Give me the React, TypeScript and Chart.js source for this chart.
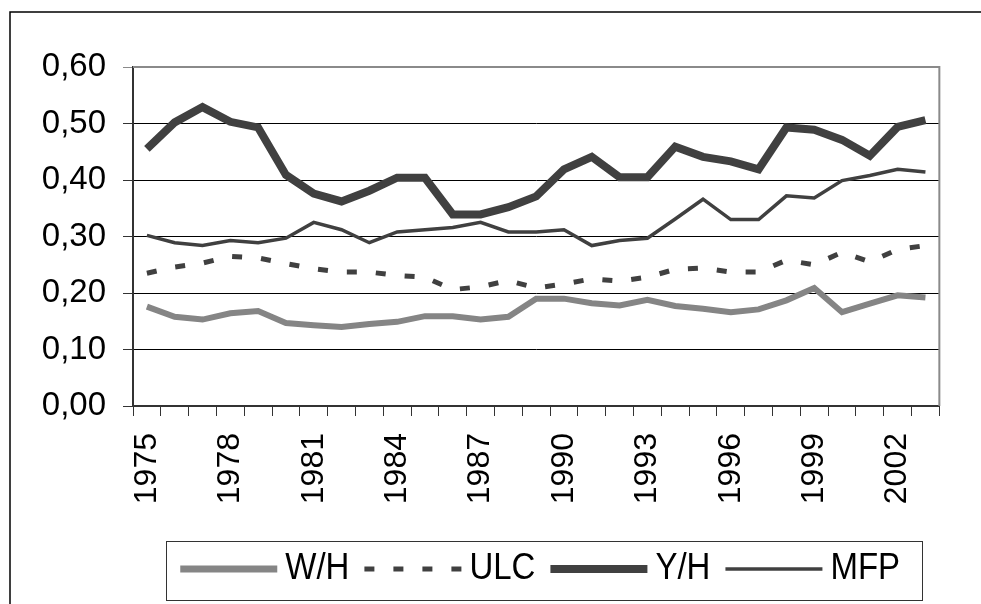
import React, { useEffect, useRef } from 'react';
import { Chart, registerables } from 'chart.js';

Chart.register(...registerables);

const years = ['1975','1976','1977','1978','1979','1980','1981','1982','1983','1984','1985','1986','1987','1988','1989','1990','1991','1992','1993','1994','1995','1996','1997','1998','1999','2000','2001','2002','2003'];

const seriesNames = ['W/H', 'ULC', 'Y/H', 'MFP'];

const whValues = [0.176,0.158,0.153,0.164,0.168,0.147,0.143,0.140,0.145,0.149,0.159,0.159,0.153,0.158,0.190,0.190,0.182,0.178,0.188,0.177,0.172,0.166,0.171,0.187,0.209,0.166,0.181,0.196,0.192];
const ulcValues = [0.235,0.246,0.253,0.265,0.262,0.252,0.243,0.237,0.237,0.231,0.228,0.206,0.211,0.222,0.209,0.216,0.225,0.221,0.228,0.242,0.244,0.237,0.237,0.258,0.250,0.272,0.255,0.277,0.284];
const yhValues = [0.455,0.502,0.529,0.503,0.493,0.409,0.376,0.362,0.381,0.404,0.404,0.339,0.339,0.352,0.371,0.419,0.441,0.405,0.405,0.459,0.441,0.433,0.419,0.493,0.489,0.471,0.443,0.494,0.506];
const mfpValues = [0.302,0.289,0.284,0.293,0.289,0.297,0.325,0.312,0.289,0.308,0.312,0.316,0.325,0.308,0.308,0.312,0.284,0.293,0.297,0.331,0.366,0.330,0.330,0.372,0.368,0.399,0.408,0.419,0.414];

const yMin = 0;
const yMax = 0.6;
const yStep = 0.1;

const FONT = '"Liberation Sans", Arial, sans-serif';

const framePlugin = {
  id: 'frame',
  beforeDatasetsDraw(chart: any) {
    const { ctx, chartArea: ca } = chart;
    ctx.save();
    ctx.strokeStyle = '#8a8a8a';
    ctx.lineWidth = 2;
    ctx.beginPath();
    ctx.moveTo(ca.left, ca.top);
    ctx.lineTo(ca.right, ca.top);
    ctx.lineTo(ca.right, ca.bottom);
    ctx.stroke();
    ctx.restore();
  },
  afterDraw(chart: any) {
    const { ctx, chartArea: ca, width, height } = chart;
    ctx.save();
    // outer frame (extends beyond the picture)
    ctx.strokeStyle = '#000';
    ctx.lineWidth = 1.5;
    ctx.beginPath();
    ctx.moveTo(10, height);
    ctx.lineTo(10, 12);
    ctx.lineTo(width, 12);
    ctx.stroke();

    // legend
    const fontSize = 33;
    ctx.font = `${fontSize}px ${FONT}`;
    const lineLen = 97;
    const gap = 8;
    const spacing = 15;
    const items = chart.data.datasets.map((ds: any) => ({
      label: ds.label,
      w: ctx.measureText(ds.label).width,
      color: ds.borderColor,
      lw: ds.legendWidth ?? ds.borderWidth,
      dash: ds.borderDash || [],
    }));
    const total = items.reduce((s: number, it: any) => s + lineLen + gap + it.w, 0) + spacing * (items.length - 1);
    const cx = (ca.left + ca.right) / 2 + 4;
    let x = cx - total / 2;
    const boxLeft = x - 14;
    const boxTop = 541;
    const boxW = total + 14 + 22;
    const boxH = 59;
    ctx.strokeStyle = '#333';
    ctx.lineWidth = 1;
    ctx.strokeRect(Math.round(boxLeft) + 0.5, boxTop + 0.5, Math.round(boxW), boxH);
    const lineY = 569;
    const baseY = 579;
    for (const it of items) {
      ctx.save();
      ctx.strokeStyle = it.color;
      ctx.lineWidth = it.lw;
      ctx.setLineDash(it.dash);
      ctx.lineCap = 'butt';
      ctx.beginPath();
      ctx.moveTo(x, lineY);
      ctx.lineTo(x + lineLen, lineY);
      ctx.stroke();
      ctx.restore();
      x += lineLen + gap;
      ctx.save();
      ctx.fillStyle = '#000';
      ctx.textBaseline = 'alphabetic';
      ctx.textAlign = 'left';
      ctx.translate(x, baseY);
      ctx.scale(1, 1.1);
      ctx.fillText(it.label, 0, 0);
      ctx.restore();
      x += it.w + spacing;
    }
    ctx.restore();
  },
};

export default function App() {
  const ref = useRef<HTMLCanvasElement | null>(null);

  useEffect(() => {
    if (!ref.current) return;
    const isTop = (c: any) => c.tick && Math.abs(c.tick.value - yMax) < 1e-6;
    const chart = new Chart(ref.current, {
      type: 'line',
      data: {
        labels: years,
        datasets: [
          {
            label: seriesNames[0],
            data: whValues,
            borderColor: '#858585',
            borderWidth: 6,
            legendWidth: 7,
            pointRadius: 0,
            tension: 0,
          } as any,
          {
            label: seriesNames[1],
            data: ulcValues,
            borderColor: '#404040',
            borderWidth: 5,
            borderDash: [10, 19],
            pointRadius: 0,
            tension: 0,
          } as any,
          {
            label: seriesNames[2],
            data: yhValues,
            borderColor: '#404040',
            borderWidth: 8,
            pointRadius: 0,
            tension: 0,
          } as any,
          {
            label: seriesNames[3],
            data: mfpValues,
            borderColor: '#404040',
            borderWidth: 3.5,
            pointRadius: 0,
            tension: 0,
          } as any,
        ],
      },
      options: {
        responsive: false,
        animation: false,
        layout: { padding: { top: 67, right: 9, left: 0, bottom: 0 } },
        plugins: {
          legend: { display: false },
          tooltip: { enabled: false },
        },
        scales: {
          x: {
            type: 'category',
            offset: true,
            afterFit: (s: any) => { s.height = 198; },
            grid: {
              offset: true,
              drawOnChartArea: false,
              drawTicks: true,
              tickLength: 10,
              tickColor: '#333',
              lineWidth: 1,
            },
            border: { display: true, color: '#333', width: 2 },
            ticks: {
              autoSkip: false,
              maxRotation: 90,
              minRotation: 90,
              padding: 17,
              color: '#000',
              font: { family: FONT, size: 32 },
              callback: function (this: any, _v: any, i: number) {
                return i % 3 === 0 ? years[i] : '';
              },
            },
          },
          y: {
            min: yMin,
            max: yMax,
            afterFit: (s: any) => { s.width = 133; },
            grid: {
              color: (c: any) => (isTop(c) ? '#8a8a8a' : '#000'),
              lineWidth: 1,
              drawTicks: true,
              tickLength: 10,
              tickColor: (c: any) => (isTop(c) ? '#8a8a8a' : '#333'),
            },
            border: { display: true, color: '#333', width: 2 },
            ticks: {
              stepSize: yStep,
              padding: 17,
              color: '#000',
              font: { family: FONT, size: 33 },
              callback: (v: any) => Number(v).toFixed(2).replace('.', ','),
            },
          },
        },
      } as any,
      plugins: [framePlugin],
    });
    return () => chart.destroy();
  }, []);

  return (
    <div style={{ position: 'fixed', left: 0, top: 0, width: 981, height: 604, background: '#fff' }}>
      <canvas ref={ref} width={981} height={604} style={{ display: 'block', width: 981, height: 604 }} />
    </div>
  );
}
